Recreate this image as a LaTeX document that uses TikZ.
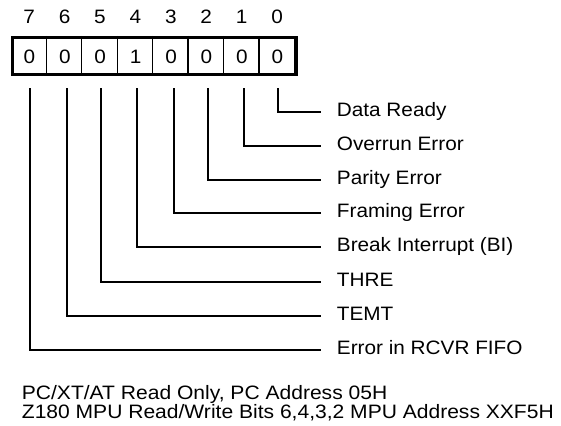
\documentclass[tikz,border=0pt]{standalone}
\usepackage{fontspec}
\setmainfont[FakeStretch=1.07]{Liberation Sans}
\newfontfamily\footfont[FakeStretch=1.085]{Liberation Sans}
\usetikzlibrary{calc}
\begin{document}
\begin{tikzpicture}[x=1pt,y=-1pt,
  txt/.style={inner sep=0pt,font=\fontsize{19.4}{19.4}\selectfont},
  lbl/.style={txt,anchor=base west},
  foot/.style={lbl,font=\footfont\fontsize{19.4}{19.4}\selectfont},
  num/.style={txt,anchor=base},
  conn/.style={line width=2pt,line join=miter,line cap=rect},
  outer/.style={line width=3.4pt},
  divider/.style={line width=1.3pt}]
\useasboundingbox (0,0) rectangle (561,425);
% register box
\node[draw,outer,minimum width=283.3pt,minimum height=36.7pt,inner sep=0pt,anchor=north west] (reg) at (11,36) {};
\foreach \i in {1,...,7} {
  \draw[divider] ($(reg.north west)+(35.41*\i,0)$) -- ($(reg.south west)+(35.41*\i,0)$);
}
% bit numbers and values
\foreach \b/\v [count=\k from 0] in {7/0,6/0,5/0,4/1,3/0,2/0,1/0,0/0} {
  \node[num] (n\b) at (29.2+35.41*\k,24) {\b};
  \node[num] (v\b) at (29.4+35.41*\k,64) {\v};
}
% connector start points and ends
\foreach \b/\x/\y in {0/278/111.7,1/244/145.7,2/208/179.5,3/174/213.3,4/137.3/247.3,5/101.3/281.5,6/67.3/315.7,7/30.3/350} {
  \coordinate (s\b) at (\x,89);
  \coordinate (e\b) at (320,\y);
}
\node[lbl] (l0) at (336.7,116.2) {Data Ready};
\node[lbl] (l1) at (336.7,150.2) {Overrun Error};
\node[lbl] (l2) at (336.7,184.0) {Parity Error};
\node[lbl] (l3) at (336.7,217.8) {Framing Error};
\node[lbl] (l4) at (336.7,251.8) {Break Interrupt (BI)};
\node[lbl] (l5) at (336.7,286.0) {THRE};
\node[lbl] (l6) at (336.7,320.2) {TEMT};
\node[lbl] (l7) at (336.7,354.5) {Error in RCVR FIFO};
\foreach \b in {0,...,7} {
  \draw[conn] (s\b) |- (e\b);
}
% footer
\node[foot] (f1) at (21.7,399.5) {PC/XT/AT Read Only, PC Address 05H};
\node[foot] (f2) at (21.7,418) {Z180 MPU Read/Write Bits 6,4,3,2 MPU Address XXF5H};
\end{tikzpicture}
\end{document}
